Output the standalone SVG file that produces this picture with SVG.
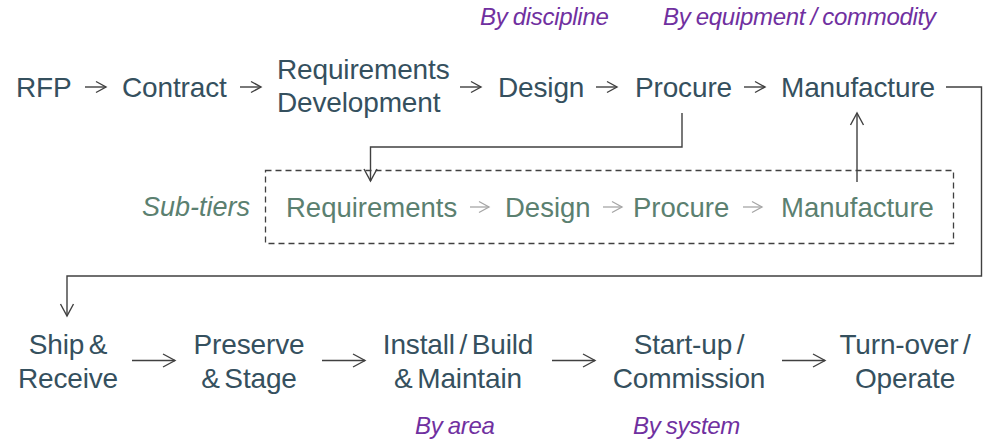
<svg xmlns="http://www.w3.org/2000/svg" width="989" height="442" viewBox="0 0 989 442">
  <style>
    .t { font-family: "Liberation Sans", Arial, sans-serif; font-size: 28px; fill: #35505e; letter-spacing: -0.15px; word-spacing: -3px; }
    .s { font-family: "Liberation Sans", Arial, sans-serif; font-size: 27.5px; fill: #5b8070; }
    .si { font-family: "Liberation Sans", Arial, sans-serif; font-size: 27px; font-style: italic; fill: #5b8070; }
    .p { font-family: "Liberation Sans", Arial, sans-serif; font-size: 24px; font-style: italic; fill: #7030a0; letter-spacing: -0.3px; word-spacing: -1px; }
    .c { text-anchor: middle; }
    .ln { fill: none; stroke: #404040; stroke-width: 1.4; }
    .lg { fill: none; stroke: #a6a6a6; stroke-width: 1.3; }
    .box { fill: none; stroke: #404040; stroke-width: 1.3; stroke-dasharray: 6 4; }
  </style>
  <defs>
    <marker id="a" markerUnits="userSpaceOnUse" markerWidth="16" markerHeight="16" refX="12" refY="6.5" orient="auto" overflow="visible">
      <path d="M0,0 L12,6.5 L0,13" fill="none" stroke="#404040" stroke-width="1.4"/>
    </marker>
    <marker id="as" markerUnits="userSpaceOnUse" markerWidth="14" markerHeight="14" refX="10" refY="5.5" orient="auto" overflow="visible">
      <path d="M0,0 L10,5.5 L0,11" fill="none" stroke="#404040" stroke-width="1.4"/>
    </marker>
    <marker id="ag" markerUnits="userSpaceOnUse" markerWidth="14" markerHeight="14" refX="10" refY="5.5" orient="auto" overflow="visible">
      <path d="M0,0 L10,5.5 L0,11" fill="none" stroke="#a6a6a6" stroke-width="1.3"/>
    </marker>
  </defs>

  <rect class="box" x="265.5" y="170.5" width="688" height="73"/>

  <g id="connectors">
    <line class="ln" x1="85" y1="87" x2="106" y2="87" marker-end="url(#as)"/>
    <line class="ln" x1="240" y1="87" x2="261" y2="87" marker-end="url(#as)"/>
    <line class="ln" x1="460" y1="87" x2="481" y2="87" marker-end="url(#as)"/>
    <line class="ln" x1="596" y1="87" x2="617" y2="87" marker-end="url(#as)"/>
    <line class="ln" x1="744" y1="87" x2="765" y2="87" marker-end="url(#as)"/>
    <polyline class="ln" points="946,87 981.5,87 981.5,276 67,276 67,316" marker-end="url(#a)"/>
    <polyline class="ln" points="682,113 682,147 370.5,147 370.5,181" marker-end="url(#a)"/>
    <line class="ln" x1="857" y1="182" x2="857" y2="113" marker-end="url(#a)"/>
    <line class="lg" x1="470" y1="207" x2="489" y2="207" marker-end="url(#ag)"/>
    <line class="lg" x1="603" y1="207" x2="622" y2="207" marker-end="url(#ag)"/>
    <line class="lg" x1="743" y1="207" x2="762" y2="207" marker-end="url(#ag)"/>
    <line class="ln" x1="132" y1="360.5" x2="175" y2="360.5" marker-end="url(#a)"/>
    <line class="ln" x1="322" y1="360.5" x2="365" y2="360.5" marker-end="url(#a)"/>
    <line class="ln" x1="552" y1="360.5" x2="595" y2="360.5" marker-end="url(#a)"/>
    <line class="ln" x1="782" y1="360.5" x2="825" y2="360.5" marker-end="url(#a)"/>
  </g>

  <g id="label-discipline"><text class="p" x="480" y="25">By discipline</text></g>
  <g id="label-equipment"><text class="p" x="663" y="25">By equipment / commodity</text></g>

  <g id="rfp"><text class="t" x="16" y="97">RFP</text></g>
  <g id="contract"><text class="t" x="122" y="97">Contract</text></g>
  <g id="reqdev"><text class="t" x="277" y="79">Requirements</text><text class="t" x="277" y="112">Development</text></g>
  <g id="design"><text class="t" x="498" y="97">Design</text></g>
  <g id="procure"><text class="t" x="635" y="97">Procure</text></g>
  <g id="manufacture"><text class="t" x="781" y="97">Manufacture</text></g>

  <g id="subtiers-label"><text class="si" x="142" y="216">Sub-tiers</text></g>
  <g id="sub-req"><text class="s" x="286" y="217">Requirements</text></g>
  <g id="sub-design"><text class="s" x="505" y="217">Design</text></g>
  <g id="sub-procure"><text class="s" x="633" y="217">Procure</text></g>
  <g id="sub-manufacture"><text class="s" x="781" y="217">Manufacture</text></g>

  <g id="ship"><text class="t c" x="68" y="354">Ship &amp;</text><text class="t c" x="68" y="388">Receive</text></g>
  <g id="preserve"><text class="t c" x="249" y="354">Preserve</text><text class="t c" x="249" y="388">&amp; Stage</text></g>
  <g id="install"><text class="t c" x="458" y="354">Install / Build</text><text class="t c" x="458" y="388">&amp; Maintain</text></g>
  <g id="startup"><text class="t c" x="689" y="354">Start-up /</text><text class="t c" x="689" y="388">Commission</text></g>
  <g id="turnover"><text class="t c" x="905" y="354">Turn-over /</text><text class="t c" x="905" y="388">Operate</text></g>

  <g id="label-area"><text class="p" x="415" y="434">By area</text></g>
  <g id="label-system"><text class="p" x="633" y="434">By system</text></g>
</svg>
